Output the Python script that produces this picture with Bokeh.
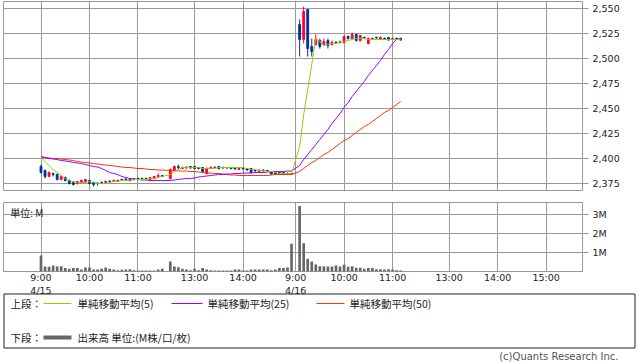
import pandas as pd
from bokeh.plotting import figure
from bokeh.layouts import column
from bokeh.models import Range1d, FixedTicker, ColumnDataSource, NumeralTickFormatter
from bokeh.core.properties import value
from bokeh.embed import file_html
from bokeh.resources import INLINE

# ---------------- data ----------------
DAYS = ["4/15", "4/16"]
SESSIONS = [[("09:00", "11:30"), ("12:30", "15:00")], [("09:00", "11:05")]]

OPEN = [
    2392, 2388, 2382, 2385, 2384, 2379, 2381, 2378, 2376, 2375, 2376, 2377, 2378, 2376, 2375.5, 2376,
    2376, 2377.5, 2377, 2377, 2379, 2379.5, 2379, 2379, 2380, 2380, 2380, 2379, 2380, 2382, 2383,
    2380, 2388, 2392, 2390, 2390.5, 2392, 2392, 2391, 2391, 2385, 2390, 2391, 2392, 2391, 2391, 2391,
    2391, 2389, 2390, 2390, 2390, 2388, 2387, 2388.5, 2388, 2387, 2386, 2386, 2386, 2385, 2385,
    2534, 2519, 2549, 2512, 2514, 2518, 2514, 2518, 2514, 2516.5, 2516.5, 2516, 2522, 2520, 2524, 2518,
    2521, 2515, 2519.5, 2521, 2519, 2520, 2521, 2519, 2520, 2520,
]
HIGH = [
    2394, 2389, 2387, 2386, 2385, 2383, 2382, 2379, 2377, 2377, 2379, 2379, 2379, 2377, 2376, 2377,
    2378, 2378, 2379, 2379, 2380, 2380, 2380, 2380, 2381, 2381, 2381, 2381, 2382, 2385, 2383,
    2390, 2393, 2394, 2392, 2392, 2392, 2392, 2391, 2391, 2391, 2392, 2392, 2392, 2392, 2391, 2391,
    2391, 2391, 2391, 2390, 2390, 2389, 2389, 2389, 2388, 2387, 2386, 2386, 2386, 2386, 2385,
    2539, 2552, 2549, 2520, 2524, 2520, 2520, 2520, 2518, 2517, 2518, 2523, 2523, 2526, 2525, 2523,
    2522, 2521, 2521, 2522, 2522, 2521, 2521, 2521, 2521, 2521,
]
LOW = [
    2385, 2380, 2382, 2382, 2378, 2378, 2377, 2374, 2373, 2374, 2375, 2376, 2374, 2372, 2373, 2375,
    2375, 2376, 2377, 2377, 2378, 2378, 2377, 2378, 2379, 2379, 2379, 2378, 2379, 2381, 2382,
    2379, 2387, 2389, 2390, 2390, 2390, 2390, 2389, 2386, 2384, 2390, 2390, 2389, 2390, 2390, 2389,
    2389, 2389, 2389, 2388, 2385, 2387, 2387, 2387, 2387, 2384, 2384, 2384, 2384, 2384, 2384,
    2502, 2515, 2502, 2502, 2513, 2510, 2513, 2510, 2513, 2515, 2515, 2515, 2519, 2519, 2517, 2517,
    2520, 2514, 2519, 2520, 2519, 2519, 2518, 2519, 2519, 2518,
]
CLOSE = [
    2386, 2382, 2386, 2384, 2379, 2382, 2378, 2375, 2374, 2377, 2378, 2379, 2375, 2374, 2375, 2375,
    2377, 2377, 2378, 2378, 2378.5, 2379, 2378, 2380, 2379.5, 2379, 2379, 2381, 2382, 2383, 2382,
    2389, 2392, 2391, 2391, 2391.5, 2390.5, 2390, 2390, 2387, 2390, 2391, 2391.5, 2390, 2390.5, 2390.5,
    2390, 2389.5, 2390, 2389.5, 2388.5, 2386, 2387.5, 2388.5, 2387.5, 2387.5, 2384.5, 2384.5, 2384.5,
    2384.5, 2384.5, 2384.5,
    2519, 2547, 2510, 2507, 2519, 2512, 2517, 2513, 2516, 2516, 2516, 2522, 2520, 2524, 2518, 2523,
    2520.5, 2520, 2520, 2520.5, 2521, 2519.5, 2518.5, 2520, 2519.5, 2518.5,
]
VOLUME_M = [
    0.84, 0.26, 0.25, 0.32, 0.26, 0.28, 0.18, 0.14, 0.18, 0.18, 0.11, 0.21, 0.21, 0.10, 0.10, 0.14,
    0.21, 0.14, 0.10, 0.07, 0.09, 0.10, 0.12, 0.07, 0.05, 0.05, 0.05, 0.05, 0.05, 0.10, 0.14,
    0.53, 0.26, 0.23, 0.14, 0.10, 0.07, 0.14, 0.07, 0.18, 0.10, 0.07, 0.05, 0.05, 0.05, 0.05, 0.05,
    0.10, 0.10, 0.05, 0.05, 0.10, 0.10, 0.10, 0.10, 0.10, 0.07, 0.10, 0.18, 0.18, 0.21, 1.46,
    3.44, 1.49, 0.67, 0.53, 0.37, 0.28, 0.28, 0.26, 0.26, 0.32, 0.26, 0.35, 0.25, 0.28, 0.20, 0.20,
    0.14, 0.18, 0.18, 0.12, 0.12, 0.10, 0.12, 0.10, 0.07, 0.05,
]
MA5 = [
    2401, 2397, 2393, 2389, 2386, 2383, 2380, 2378, 2377, 2376, 2376, 2376, 2377, 2376, 2375, 2375,
    2375, 2376, 2377, 2377, 2378, 2378, 2378, 2379, 2379, 2379, 2379, 2380, 2380, 2381, 2382,
    2384, 2387, 2389, 2391, 2391, 2391, 2391, 2391, 2390, 2390, 2390, 2390, 2391, 2391, 2391, 2391,
    2391, 2391, 2391, 2390, 2389, 2389, 2388, 2388, 2387, 2387, 2386, 2385, 2385, 2385, 2385,
    2412, 2444, 2469, 2494, 2520, 2517, 2513, 2514, 2515, 2515, 2516, 2517, 2518, 2519, 2520, 2520,
    2520, 2519, 2519, 2519, 2519, 2519, 2519, 2519, 2519, 2519,
]
MA25 = [
    2402, 2401, 2400, 2399.5, 2399, 2398, 2397.5, 2397, 2396, 2395.5, 2395, 2394, 2393, 2392, 2391.5,
    2390, 2388, 2386, 2385, 2384, 2382, 2381, 2380, 2379.5, 2379, 2378.5, 2378.5, 2378, 2378, 2378, 2378,
    2378, 2378.5, 2379, 2379.5, 2380, 2380, 2380.5, 2381.5, 2382, 2382.5, 2383, 2383.5, 2384, 2384,
    2384.5, 2384.5, 2385, 2385, 2385.5, 2385.5, 2385.5, 2386, 2386, 2386, 2386.5, 2386.5, 2387, 2387,
    2387, 2387.5, 2387.5,
    2393, 2399, 2404, 2409, 2414, 2419, 2424, 2429, 2435, 2440, 2445, 2451, 2456, 2462, 2467, 2472,
    2477, 2483, 2488, 2493, 2498, 2504, 2509, 2515, 2519, 2520,
]
MA50 = [
    2401, 2401, 2400.5, 2400, 2400, 2399.5, 2399, 2398.5, 2398, 2397, 2396.5, 2396, 2395.5, 2395, 2394.5,
    2394, 2393.5, 2393, 2392.5, 2392, 2391.5, 2391, 2391, 2390.5, 2390, 2390, 2389.5, 2389, 2389,
    2388.5, 2388.5,
    2388, 2388, 2387.5, 2387.5, 2387.5, 2387, 2387, 2386.5, 2386, 2385.5, 2385.5, 2385, 2385, 2384.5,
    2384, 2383.5, 2383.5, 2383, 2383, 2383, 2383, 2383, 2383, 2383, 2383, 2383.5, 2384, 2384, 2384,
    2384, 2384,
    2387, 2390, 2393, 2396, 2398, 2401, 2404, 2406, 2409, 2412, 2415, 2418, 2420, 2423, 2426, 2429,
    2432, 2434, 2437, 2440, 2443, 2446, 2448, 2451, 2454, 2457,
]

PRICE_TICKS = [2375, 2400, 2425, 2450, 2475, 2500, 2525, 2550]
VOL_TICKS = [1, 2, 3]
VOL_TICK_LABELS = ["1M", "2M", "3M"]
TIME_TICKS = [0, 12, 24, 38, 50, 63, 75, 87, 101, 113, 125]
TIME_TICK_LABELS = ["9:00", "10:00", "11:00", "13:00", "14:00", "9:00",
                    "10:00", "11:00", "13:00", "14:00", "15:00"]
DATE_TICKS = [0, 63]

LEGEND_TOP = ["上段：", "単純移動平均(5)", "単純移動平均(25)", "単純移動平均(50)"]
LEGEND_BOTTOM = ["下段：", "出来高 単位:(M株/口/枚)"]
COPYRIGHT = "(c)Quants Research Inc."
VOL_UNIT = "単位: M"

# ---------------- styles ----------------
UP, DOWN = "#ff0033", "#003399"
C5, C25, C50 = "#99cc00", "#9900ff", "#ff3300"
GRID = "#999999"
TXT = "#222222"
JP = "Noto Sans CJK JP"
LAT = "DejaVu Sans"


def slot_of(day_idx, t):
    m = t.hour * 60 + t.minute
    if m <= 11 * 60 + 30:
        off = (m - 540) / 5
    else:
        off = (m - 750) / 5 + 32
    return day_idx * 64 + off


slots = []
for d, sess in enumerate(SESSIONS):
    for a, b in sess:
        for t in pd.date_range("2000-01-01 " + a, "2000-01-01 " + b, freq="5min"):
            slots.append(slot_of(d, t))

df = pd.DataFrame(dict(x=slots, open=OPEN, high=HIGH, low=LOW, close=CLOSE, vol=VOLUME_M,
                       ma5=MA5, ma25=MA25, ma50=MA50))
df["top"] = df[["open", "close"]].max(axis=1)
df["bottom"] = df[["open", "close"]].min(axis=1)
df["color"] = [UP if c > o else DOWN for o, c in zip(df.open, df.close)]
src = ColumnDataSource(df)

W = 638
LEFT, RIGHT = 3, 56
X0, X1 = -9.28, 134.0
XR = Range1d(X0, X1)
PPS = (W - LEFT - RIGHT) / (X1 - X0)   # pixels per slot inside the panel frames

# ---------------- price panel ----------------
p1 = figure(width=W, height=196, x_range=XR, y_range=Range1d(2368, 2557),
            x_axis_location=None, y_axis_location="right", toolbar_location=None,
            output_backend="svg", min_border_left=LEFT, min_border_right=RIGHT,
            min_border_top=1, min_border_bottom=6)
p1.outline_line_color = GRID
p1.xgrid.ticker = FixedTicker(ticks=TIME_TICKS)
p1.grid.grid_line_color = GRID
p1.grid.grid_line_alpha = 1
ya = p1.yaxis[0]
ya.ticker = FixedTicker(ticks=PRICE_TICKS)
ya.formatter = NumeralTickFormatter(format="0,0")
ya.major_tick_in = 0
ya.major_tick_out = 6
ya.minor_tick_line_color = None
ya.axis_line_color = GRID
ya.major_tick_line_color = GRID
ya.major_label_standoff = 4
ya.major_label_text_font = LAT
ya.major_label_text_font_size = "9.5px"
ya.major_label_text_color = TXT

p1.segment(x0="x", x1="x", y0="low", y1="high", color="color", line_width=1, source=src)
p1.vbar(x="x", width=0.45, top="top", bottom="bottom", fill_color="color",
        line_color="color", line_width=1, source=src)
p1.line(x="x", y="ma50", color=C50, line_width=1, source=src)
p1.line(x="x", y="ma25", color=C25, line_width=1, source=src)
p1.line(x="x", y="ma5", color=C5, line_width=1, source=src)

# ---------------- volume panel ----------------
p2 = figure(width=W, height=89, x_range=XR, y_range=Range1d(0, 3.63),
            y_axis_location="right", toolbar_location=None, output_backend="svg",
            min_border_left=LEFT, min_border_right=RIGHT, min_border_top=6, min_border_bottom=0)
p2.outline_line_color = GRID
p2.grid.grid_line_color = GRID
p2.xgrid.ticker = FixedTicker(ticks=TIME_TICKS)
xa = p2.xaxis[0]
xa.ticker = FixedTicker(ticks=TIME_TICKS)
xa.major_label_overrides = {k: v for k, v in zip(TIME_TICKS, TIME_TICK_LABELS)}
xa.axis_line_color = None
xa.major_tick_line_color = None
xa.minor_tick_line_color = None
xa.major_tick_in = 0
xa.major_tick_out = 0
xa.major_label_standoff = 0
xa.major_label_text_font = LAT
xa.major_label_text_font_size = "9.5px"
xa.major_label_text_color = TXT

yb = p2.yaxis[0]
yb.ticker = FixedTicker(ticks=VOL_TICKS)
yb.major_label_overrides = {k: v for k, v in zip(VOL_TICKS, VOL_TICK_LABELS)}
yb.major_tick_in = 0
yb.major_tick_out = 6
yb.minor_tick_line_color = None
yb.axis_line_color = GRID
yb.major_tick_line_color = GRID
yb.major_label_standoff = 4
yb.major_label_text_font = LAT
yb.major_label_text_font_size = "9.5px"
yb.major_label_text_color = TXT

p2.vbar(x="x", width=0.66, top="vol", bottom=0, fill_color="#666666", line_color=None, source=src)
p2.text(x=[-7.6], y=[3.5], text=[VOL_UNIT], text_font=value(JP), text_font_size="10px",
        text_color=TXT, text_baseline="top", text_align="left")

# ---------------- date labels / legend / footer ----------------
H3 = 362 - 196 - 89
p3 = figure(width=W, height=H3,
            x_range=Range1d(X0 - LEFT / PPS, X0 + (W - LEFT) / PPS),
            y_range=Range1d(H3, 0), toolbar_location=None, output_backend="svg",
            min_border=0, min_border_left=0, min_border_right=0, min_border_top=0,
            min_border_bottom=0, x_axis_location=None, y_axis_location=None)
p3.extra_x_ranges = {"px": Range1d(0, W)}
p3.frame_align = False
p3.grid.visible = False
p3.outline_line_color = None

# date line of the time axis, on the same slot scale as the panels
p3.text(x=DATE_TICKS, y=[4.8] * len(DATE_TICKS), text=DAYS, text_font=value(LAT),
        text_font_size="9.5px", text_color=TXT, text_baseline="middle", text_align="center")

p3.quad(left=[3.5], right=[634.5], top=[8.5], bottom=[62.5], fill_color=None,
        line_color=TXT, line_width=1, x_range_name="px")
row1, row2 = 18, 52
p3.segment(x0=[43, 171, 316], x1=[71, 202, 344], y0=[row1] * 3, y1=[row1] * 3,
           color=[C5, C25, C50], line_width=1, x_range_name="px")
p3.segment(x0=[43], x1=[71], y0=[row2], y1=[row2], color="#666666", line_width=4,
           x_range_name="px")
p3.text(x=[10, 77, 207, 349], y=[row1] * 4, text=LEGEND_TOP, text_font=value(JP),
        text_font_size="10.5px", text_color=TXT, text_baseline="middle", text_align="left",
        x_range_name="px")
p3.text(x=[10, 77], y=[row2] * 2, text=LEGEND_BOTTOM, text_font=value(JP),
        text_font_size="10.5px", text_color=TXT, text_baseline="middle", text_align="left",
        x_range_name="px")
p3.text(x=[618], y=[71], text=[COPYRIGHT], text_font=value(LAT), text_font_size="10px",
        text_color="#555555", text_baseline="middle", text_align="right", x_range_name="px")

layout = column(p1, p2, p3, spacing=0)
open("out.html", "w").write(file_html(layout, INLINE))
